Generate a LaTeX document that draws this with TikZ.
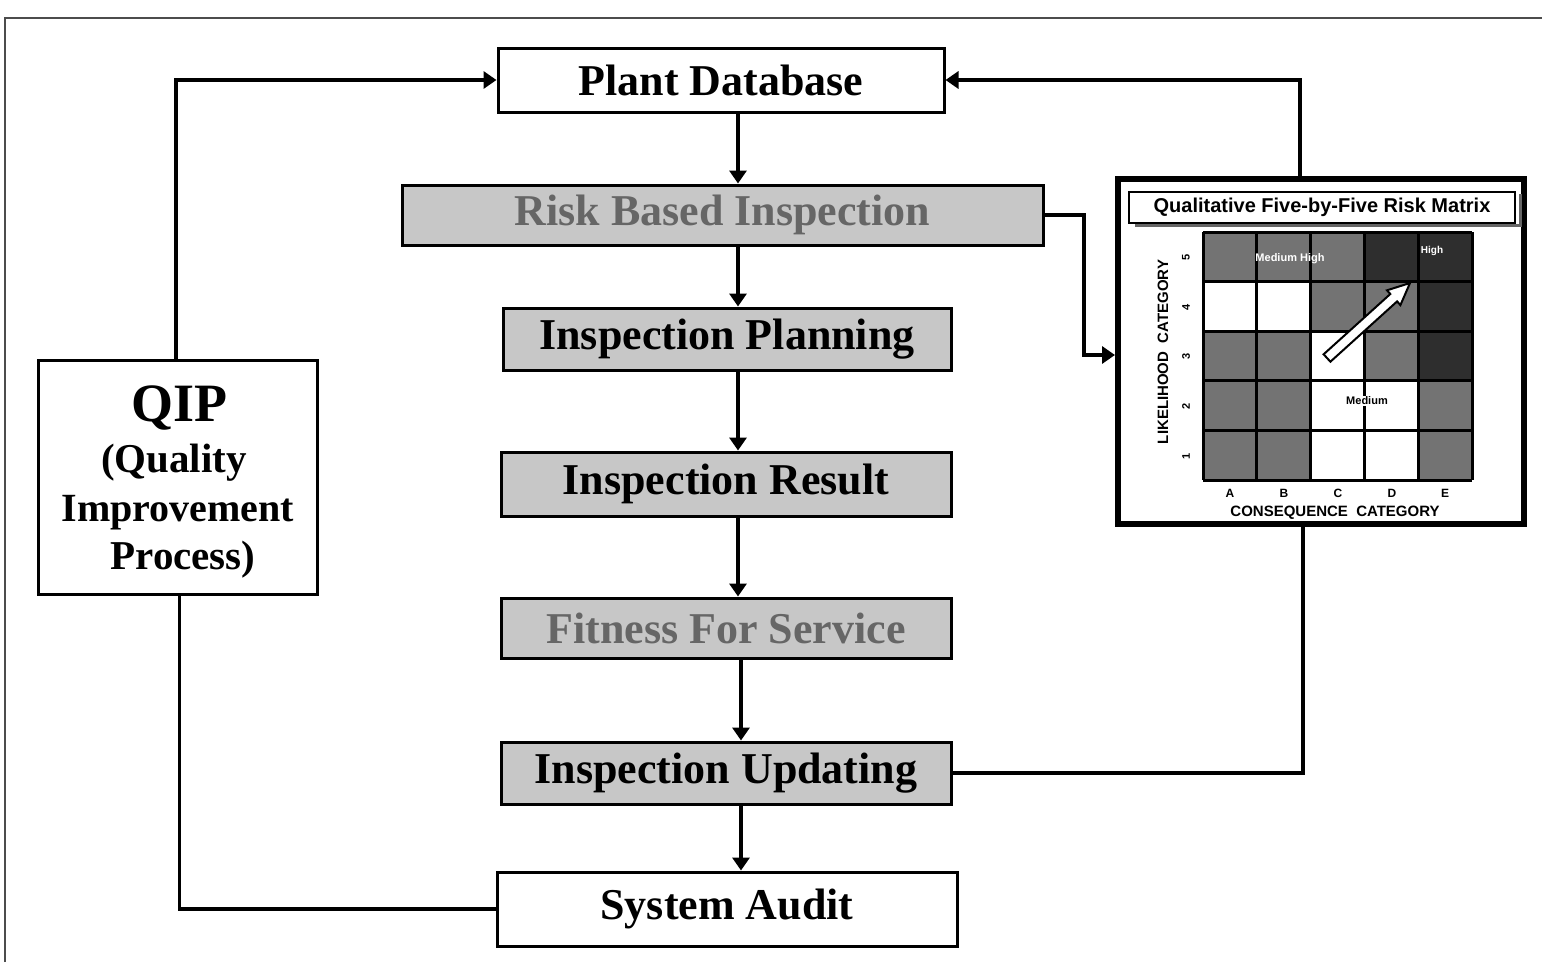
\documentclass[tikz,border=0pt]{standalone}
\usepackage{fontspec}
\setmainfont{Liberation Serif}
\newfontfamily\matfont{Liberation Sans}
\usetikzlibrary{arrows.meta,calc}
\colorlet{boxgray}{black!22}
\colorlet{mh}{black!55}
\colorlet{hi}{black!82}
\begin{document}
\begin{tikzpicture}[x=1pt,y=-1pt,
  fbox/.style={draw, line width=3pt, inner sep=0pt,
    font=\fontsize{44}{48}\selectfont\bfseries, text=black},
  gbox/.style={fbox, fill=boxgray},
  flow/.style={line width=4pt, -{Triangle[length=13pt,width=17pt]}},
  link/.style={line width=3.5pt},
  mtext/.style={font=\matfont\bfseries\fontsize{#1}{#1}\selectfont, inner sep=0pt},
  cell/.style={line width=3pt}]
\useasboundingbox (0,0) rectangle (1542,962);
% page frame
\draw[line width=1.2pt, black!70] (5,962) -- (5,18) -- (1542,18);

% flow boxes
\node[fbox, minimum width=446pt, minimum height=64pt] (pd) at (721,80) {Plant Database};
\node[gbox, minimum width=641pt, minimum height=60pt, text=black!60] (rbi) at (722.5,215) {Risk Based Inspection};
\node[gbox, minimum width=448pt, minimum height=62pt] (ip) at (727,339) {Inspection Planning};
\node[gbox, minimum width=450pt, minimum height=64pt] (ir) at (726,484) {Inspection Result};
\node[gbox, minimum width=450pt, minimum height=60pt, text=black!60] (ffs) at (726,628) {Fitness For Service};
\node[gbox, minimum width=450pt, minimum height=62pt] (iu) at (726,773) {Inspection Updating};
\node[fbox, minimum width=460pt, minimum height=74pt] (sa) at (727,909) {System Audit};

% QIP box
\node[fbox, minimum width=279pt, minimum height=234pt] (qip) at (177.5,477) {};
\node[font=\fontsize{54}{58}\selectfont\bfseries, inner sep=0pt] (qipt) at (179,408) {QIP};
\node[font=\fontsize{41}{44}\selectfont\bfseries, inner sep=0pt] (qipa) at (174,463) {(Quality};
\node[font=\fontsize{40}{44}\selectfont\bfseries, inner sep=0pt] (qipb) at (178,513) {Improvement};
\node[font=\fontsize{41}{44}\selectfont\bfseries, inner sep=0pt] (qipc) at (183,560) {Process)};

% risk matrix panel
\node[draw, line width=6pt, minimum width=406pt, minimum height=345pt, inner sep=0pt] (mx) at (1321,351.5) {};
\draw[line width=3pt, black!60] (1135,225) -- (1520,225) -- (1520,194);
\node[draw, line width=1.5pt, fill=white, minimum width=386pt, minimum height=31pt, inner sep=0pt,
  mtext=20] (mtitle) at (1322,207.5) {Qualitative Five-by-Five Risk Matrix};

% cells
\fill[mh] (1203,232) rectangle (1364.4,281.6);
\fill[hi] (1364.4,232) rectangle (1472,281.6);
\fill[mh] (1310.6,281.6) rectangle (1418.2,331.2);
\fill[hi] (1418.2,281.6) rectangle (1472,331.2);
\fill[mh] (1203,331.2) rectangle (1310.6,380.8);
\fill[mh] (1364.4,331.2) rectangle (1418.2,380.8);
\fill[hi] (1418.2,331.2) rectangle (1472,380.8);
\fill[mh] (1203,380.8) rectangle (1310.6,480);
\fill[mh] (1418.2,380.8) rectangle (1472,480);
\foreach \i in {0,...,5} {
  \draw[cell] ({1203+53.8*\i},232) -- ({1203+53.8*\i},480);
  \draw[cell] (1203,{232+49.6*\i}) -- (1472,{232+49.6*\i});
}
% cell labels
\node[mtext=11, text=white] (lmh) at (1290,259) {Medium High};
\node[mtext=10, text=white] (lhi) at (1432,251) {High};
\node[mtext=11, fill=white, inner sep=1pt] (lmed) at (1367,401) {Medium};
% diagonal arrow
\filldraw[fill=white, draw=black, line width=2pt]
  (1330.4,361.7) -- (1397.1,301.4) -- (1400.4,305.1) -- (1410,283)
  -- (1387.0,290.3) -- (1390.3,294.0) -- (1323.6,354.3) -- cycle;
% axis labels
\foreach \n/\yy in {5/257,4/307,3/356,2/406,1/456}
  \node[mtext=11, rotate=90] (row\n) at (1186,\yy) {\n};
\foreach \c/\xx in {A/1230,B/1284,C/1338,D/1392,E/1445}
  \node[mtext=12] (col\c) at (\xx,493) {\c};
\node[mtext=15, rotate=90] (ylab) at (1163,352) {LIKELIHOOD\ \ CATEGORY};
\node[mtext=15] (xlab) at (1335,513) {CONSEQUENCE\ \ CATEGORY};

% connectors
\draw[flow] ([xshift=17pt]pd.south) -- ([xshift=17pt]pd.south |- rbi.north);
\draw[flow] ([xshift=15.5pt]rbi.south) -- ([xshift=15.5pt]rbi.south |- ip.north);
\draw[flow] ([xshift=11pt]ip.south) -- ([xshift=11pt]ip.south |- ir.north);
\draw[flow] ([xshift=12pt]ir.south) -- ([xshift=12pt]ir.south |- ffs.north);
\draw[flow] ([xshift=15pt]ffs.south) -- ([xshift=15pt]ffs.south |- iu.north);
\draw[flow] ([xshift=15pt]iu.south) -- ([xshift=15pt]iu.south |- sa.north);
\draw[flow] ([xshift=-2pt]qip.north) |- (pd.west);
\draw[link] ([xshift=2pt]qip.south) |- (sa.west);
\draw[flow] (rbi.east) -- ++(39,0) |- ([yshift=-3.5pt]mx.west);
\draw[flow] ([xshift=-21pt]mx.north) |- (pd.east);
\draw[link] (iu.east) -| ([xshift=-18pt]mx.south);
\end{tikzpicture}
\end{document}
